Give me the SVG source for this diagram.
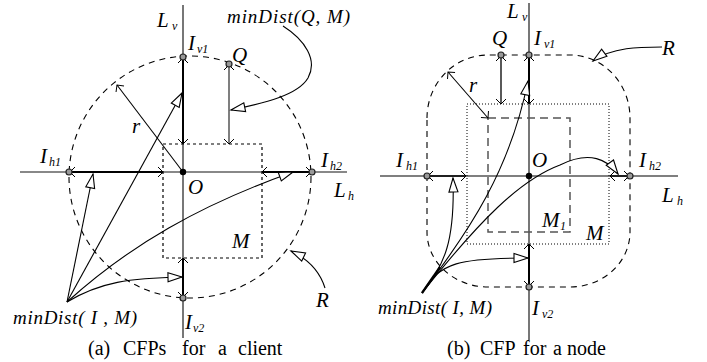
<svg xmlns="http://www.w3.org/2000/svg" width="707" height="362" viewBox="0 0 707 362" font-family="'Liberation Serif', 'DejaVu Serif', serif">
<style>
text{font-family:'Liberation Serif','DejaVu Serif',serif;fill:#000}
.it{font-style:italic;font-size:21px}
.md{font-style:italic;font-size:19px}
.sb{font-style:italic;font-size:12px}
.cap{font-size:20px}
.axis{stroke:#777;stroke-width:2;fill:none}
.seg{stroke:#000;stroke-width:2;fill:none;marker-start:url(#v);marker-end:url(#v)}
.thin{stroke:#000;stroke-width:1.1;fill:none}
.pt{fill:#999;stroke:#222;stroke-width:1.2}
</style>
<defs>
<marker id="v" markerUnits="userSpaceOnUse" markerWidth="14" markerHeight="14" refX="0" refY="0" viewBox="-8 -7 10 14" orient="auto-start-reverse" overflow="visible">
<path d="M-5,-5 L0,0 L-5,5" fill="none" stroke="#000" stroke-width="1"/>
</marker>
<marker id="tri" markerUnits="userSpaceOnUse" markerWidth="18" markerHeight="12" refX="0" refY="0" viewBox="-16 -6 17 12" orient="auto" overflow="visible">
<path d="M0,0 L-14,-4.5 L-14,4.5 Z" fill="#fff" stroke="#000" stroke-width="1.1"/>
</marker>
</defs>

<!-- Left diagram (a) -->
<g id="a-axes">
<line class="axis" x1="183" y1="5" x2="183" y2="338"/>
<line class="axis" x1="20" y1="172" x2="347" y2="172" style="stroke:#888"/>
</g>
<g id="a-region-R">
<circle cx="190" cy="177" r="121" fill="none" stroke="#000" stroke-width="1.1" stroke-dasharray="6,5"/>
</g>
<g id="a-rect-M">
<rect x="163" y="144" width="99" height="114" fill="none" stroke="#000" stroke-width="1.2" stroke-dasharray="3,3"/>
</g>
<g id="a-connectors">
<line class="seg" x1="183" y1="58" x2="183" y2="144"/>
<line class="seg" x1="229" y1="65" x2="229" y2="144" style="stroke:#555;stroke-width:1.5"/>
<line class="seg" x1="70" y1="172" x2="163" y2="172"/>
<line class="seg" x1="262" y1="172" x2="311" y2="172"/>
<line class="seg" x1="183" y1="258" x2="183" y2="297"/>
<line x1="183" y1="172" x2="117" y2="85" stroke="#000" stroke-width="1.1" marker-end="url(#v)"/>
<path class="thin" d="M283,26 C305,40 318,60 308,78 C298,95 265,103 231,110" marker-end="url(#tri)"/>
<path class="thin" d="M325,288 C320,272 310,260 291,251" marker-end="url(#tri)"/>
<path class="thin" d="M67,302 L93,174" marker-end="url(#tri)"/>
<path class="thin" d="M67,302 L182,93" marker-end="url(#tri)"/>
<path class="thin" d="M67,302 C130,245 200,205 293,172" marker-end="url(#tri)"/>
<path class="thin" d="M67,302 C100,282 130,278 182,277" marker-end="url(#tri)"/>
</g>
<g id="a-points">
<circle class="pt" cx="183" cy="57" r="3"/>
<circle class="pt" cx="229" cy="64" r="3"/>
<circle class="pt" cx="69" cy="172" r="3"/>
<circle class="pt" cx="312" cy="172" r="3"/>
<circle class="pt" cx="183" cy="298" r="3"/>
<circle cx="183" cy="172" r="3.2" fill="#000"/>
</g>
<g id="a-labels">
<text class="it" x="157" y="27">L</text><text class="sb" x="172" y="30">v</text>
<text class="md" x="227" y="23" textLength="123" lengthAdjust="spacing">minDist(Q, M)</text>
<text class="it" x="188" y="50">I</text><text class="sb" x="197" y="53">v1</text>
<text class="it" x="232" y="62">Q</text>
<text class="it" x="132" y="133">r</text>
<text class="it" x="40" y="163">I</text><text class="sb" x="49" y="166">h1</text>
<text class="it" x="321" y="167">I</text><text class="sb" x="330" y="170">h2</text>
<text class="it" x="188" y="194">O</text>
<text class="it" x="334" y="197">L</text><text class="sb" x="348" y="200">h</text>
<text class="it" x="232" y="248">M</text>
<text class="it" x="316" y="307">R</text>
<text class="md" x="13" y="324" textLength="124" lengthAdjust="spacing">minDist( I , M)</text>
<text class="it" x="185" y="329">I</text><text class="sb" x="193" y="332">v2</text>
<text class="cap" y="355"><tspan x="88">(a)</tspan><tspan x="123">CFPs</tspan><tspan x="182">for</tspan><tspan x="218">a</tspan><tspan x="238">client</tspan></text>
</g>

<!-- Right diagram (b) -->
<g id="b-axes">
<line class="axis" x1="529" y1="3" x2="529" y2="340"/>
<line x1="380" y1="176" x2="678" y2="176" stroke="#000" stroke-width="1.2"/>
</g>
<g id="b-region-R">
<path d="M427,118 A61,63 0 0 1 488,55 L570,55 A60,63 0 0 1 630,118 L630,232 A60,55 0 0 1 570,287 L488,287 A61,55 0 0 1 427,232 Z" fill="none" stroke="#000" stroke-width="1.1" stroke-dasharray="6,5"/>
</g>
<g id="b-rect-M">
<rect x="467" y="104" width="142" height="140" fill="none" stroke="#000" stroke-width="1" stroke-dasharray="1,2"/>
</g>
<g id="b-rect-M1">
<rect x="488" y="118" width="82" height="114" fill="none" stroke="#555" stroke-width="1.5" stroke-dasharray="8,5"/>
</g>
<g id="b-connectors">
<line class="seg" x1="529" y1="56" x2="529" y2="104"/>
<line class="seg" x1="501" y1="56" x2="501" y2="104" style="stroke-width:1.3"/>
<line class="seg" x1="428" y1="176" x2="466" y2="176" style="stroke-width:1.5"/>
<line class="seg" x1="610" y1="176" x2="629" y2="176" style="stroke-width:1.5"/>
<line class="seg" x1="529" y1="244" x2="529" y2="286"/>
<line class="seg" x1="448" y1="72" x2="488" y2="118" style="stroke-width:1.1"/>
<path class="thin" d="M662,47 C640,47 612,47 593,61" marker-end="url(#tri)"/>
<line x1="422" y1="293" x2="440" y2="267" stroke="#000" stroke-width="2.2"/>
<path class="thin" d="M422,293 C445,265 455,240 453,178" marker-end="url(#tri)"/>
<path class="thin" d="M422,293 C470,230 510,170 528,81" marker-end="url(#tri)"/>
<path class="thin" d="M422,293 C480,220 520,180 560,165 C590,150 608,160 618,174" marker-end="url(#tri)"/>
<path class="thin" d="M422,293 C440,262 460,258 528,258" marker-end="url(#tri)"/>
</g>
<g id="b-points">
<circle class="pt" cx="529" cy="55" r="3"/>
<circle class="pt" cx="501" cy="55" r="3"/>
<circle class="pt" cx="427" cy="176" r="3"/>
<circle class="pt" cx="630" cy="176" r="3"/>
<circle class="pt" cx="529" cy="287" r="3"/>
<circle cx="529" cy="176" r="3.2" fill="#000"/>
</g>
<g id="b-labels">
<text class="it" x="507" y="18">L</text><text class="sb" x="522" y="21">v</text>
<text class="it" x="492" y="45">Q</text>
<text class="it" x="534" y="45">I</text><text class="sb" x="544" y="48">v1</text>
<text class="it" x="662" y="55">R</text>
<text class="it" x="469" y="92">r</text>
<text class="it" x="532" y="167">O</text>
<text class="it" x="396" y="167">I</text><text class="sb" x="406" y="170">h1</text>
<text class="it" x="639" y="167">I</text><text class="sb" x="649" y="170">h2</text>
<text class="it" x="662" y="202">L</text><text class="sb" x="677" y="205">h</text>
<text class="it" x="542" y="227">M</text><text class="sb" x="560" y="230">1</text>
<text class="it" x="586" y="240">M</text>
<text class="md" x="378" y="314" textLength="114" lengthAdjust="spacing">minDist( I, M)</text>
<text class="it" x="532" y="315">I</text><text class="sb" x="542" y="318">v2</text>
<text class="cap" y="355"><tspan x="447">(b)</tspan><tspan x="480">CFP</tspan><tspan x="523">for</tspan><tspan x="553">a</tspan><tspan x="567">node</tspan></text>
</g>
</svg>
